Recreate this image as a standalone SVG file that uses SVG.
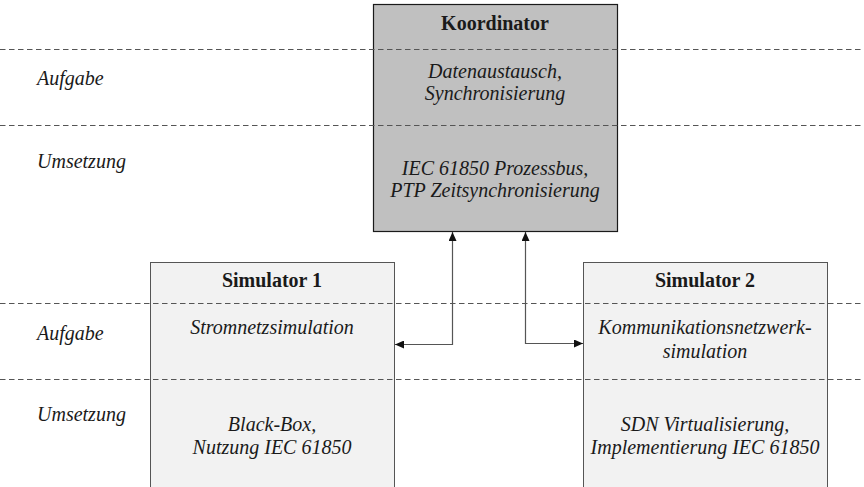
<svg xmlns="http://www.w3.org/2000/svg" width="864" height="487" viewBox="0 0 864 487">
  <style>
    text { font-family: 'Liberation Serif', 'DejaVu Serif', serif; font-size: 20px; fill: #1a1a1a; }
    .title { font-weight: bold; text-anchor: middle; }
    .it { font-style: italic; }
    .c { text-anchor: middle; }
    .lane { stroke: #555; stroke-width: 1; stroke-dasharray: 5.5 3.5; fill: none; }
    .wire { stroke: #555; stroke-width: 1.2; fill: none; }
  </style>
  <defs>
    <marker id="arrow" viewBox="0 0 10 10" refX="10" refY="5" markerWidth="9" markerHeight="8" markerUnits="userSpaceOnUse" orient="auto-start-reverse" preserveAspectRatio="none">
      <path d="M0,0 L10,5 L0,10 z" fill="#111"/>
    </marker>
  </defs>

  <rect width="864" height="487" fill="#fff"/>

  <g id="koordinator">
    <rect x="373.5" y="4.5" width="244" height="227" fill="#c0c0c0" stroke="#1a1a1a" stroke-width="1.2"/>
    <text class="title" x="495" y="30">Koordinator</text>
    <text class="it c" x="495" y="78">Datenaustausch,</text>
    <text class="it c" x="495" y="100">Synchronisierung</text>
    <text class="it c" x="495" y="175">IEC 61850 Prozessbus,</text>
    <text class="it c" x="495" y="197">PTP Zeitsynchronisierung</text>
  </g>

  <g id="simulator1">
    <rect x="150.5" y="262.5" width="244" height="230" fill="#f2f2f2" stroke="#555" stroke-width="1"/>
    <text class="title" x="272" y="287">Simulator 1</text>
    <text class="it c" x="272" y="334">Stromnetzsimulation</text>
    <text class="it c" x="272" y="431">Black-Box,</text>
    <text class="it c" x="272" y="454">Nutzung IEC 61850</text>
  </g>

  <g id="simulator2">
    <rect x="583.5" y="262.5" width="244" height="230" fill="#f2f2f2" stroke="#555" stroke-width="1"/>
    <text class="title" x="705" y="287">Simulator 2</text>
    <text class="it c" x="705" y="334">Kommunikationsnetzwerk-</text>
    <text class="it c" x="705" y="358">simulation</text>
    <text class="it c" x="705" y="431">SDN Virtualisierung,</text>
    <text class="it c" x="705" y="454">Implementierung IEC 61850</text>
  </g>

  <g id="lanes">
    <line class="lane" x1="0" y1="49.5" x2="864" y2="49.5"/>
    <line class="lane" x1="0" y1="125.5" x2="864" y2="125.5"/>
    <line class="lane" x1="0" y1="303.5" x2="864" y2="303.5"/>
    <line class="lane" x1="0" y1="379.5" x2="864" y2="379.5"/>
    <text class="it" x="37" y="85">Aufgabe</text>
    <text class="it" x="37" y="168">Umsetzung</text>
    <text class="it" x="37" y="340">Aufgabe</text>
    <text class="it" x="37" y="421">Umsetzung</text>
  </g>

  <g id="connectors">
    <path class="wire" d="M452.5,232 V344.5 H395" marker-start="url(#arrow)" marker-end="url(#arrow)"/>
    <path class="wire" d="M525.5,232 V343.5 H583" marker-start="url(#arrow)" marker-end="url(#arrow)"/>
  </g>
</svg>
